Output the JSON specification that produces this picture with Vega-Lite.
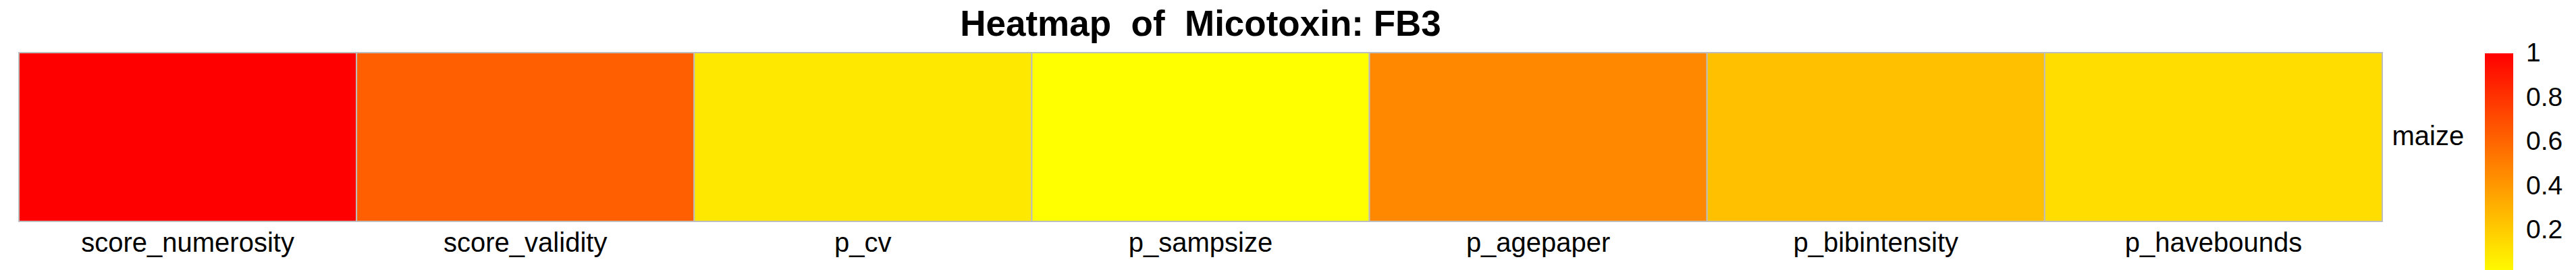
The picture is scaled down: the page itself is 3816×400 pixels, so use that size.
{
  "$schema": "https://vega.github.io/schema/vega-lite/v6.json",
  "width": 3501,
  "height": 250,
  "autosize": {"type": "none"},
  "padding": {"left": 28, "top": 78, "right": 287, "bottom": 72},
  "background": "#ffffff",
  "title": {
    "text": "Heatmap\u00a0 of\u00a0 Micotoxin: FB3",
    "font": "Liberation Sans",
    "fontSize": 53,
    "fontWeight": "bold",
    "anchor": "middle",
    "baseline": "bottom",
    "offset": 20,
    "dy": 60,
    "color": "#000000"
  },
  "data": {
    "values": [
      {"variable": "score_numerosity", "crop": "maize", "value": 1.0},
      {"variable": "score_validity", "crop": "maize", "value": 0.627},
      {"variable": "p_cv", "crop": "maize", "value": 0.09},
      {"variable": "p_sampsize", "crop": "maize", "value": 0.0},
      {"variable": "p_agepaper", "crop": "maize", "value": 0.467},
      {"variable": "p_bibintensity", "crop": "maize", "value": 0.247},
      {"variable": "p_havebounds", "crop": "maize", "value": 0.133}
    ]
  },
  "mark": {"type": "rect", "stroke": "#bebebe", "strokeWidth": 2},
  "encoding": {
    "x": {
      "field": "variable",
      "type": "nominal",
      "sort": null,
      "scale": {"paddingInner": 0, "paddingOuter": 0},
      "axis": {
        "orient": "bottom",
        "title": null,
        "labelAngle": 0,
        "ticks": false,
        "domain": false,
        "labelLimit": 0,
        "labelFont": "Liberation Sans",
        "labelFontSize": 40,
        "labelColor": "#000000",
        "labelPadding": 12
      }
    },
    "y": {
      "field": "crop",
      "type": "nominal",
      "scale": {"paddingInner": 0, "paddingOuter": 0},
      "axis": {
        "orient": "right",
        "title": null,
        "ticks": false,
        "domain": false,
        "labelLimit": 0,
        "labelFont": "Liberation Sans",
        "labelFontSize": 40,
        "labelColor": "#000000",
        "labelPadding": 14
      }
    },
    "color": {
      "field": "value",
      "type": "quantitative",
      "scale": {"domain": [0, 1], "range": ["#ffff00", "#ff0000"], "interpolate": "rgb"},
      "legend": {
        "orient": "none",
        "legendX": 3653,
        "legendY": 1,
        "direction": "vertical",
        "title": null,
        "gradientLength": 328,
        "gradientThickness": 42,
        "gradientStrokeWidth": 0,
        "values": [0.2, 0.4, 0.6, 0.8, 1],
        "format": "~g",
        "labelFont": "Liberation Sans",
        "labelFontSize": 39,
        "labelColor": "#000000",
        "labelOffset": 19,
        "labelBaseline": "middle",
        "labelLimit": 0,
        "padding": 0,
        "encode": {"labels": {"update": {"baseline": {"value": "middle"}}}}
      }
    }
  },
  "config": {"view": {"stroke": null}}
}
